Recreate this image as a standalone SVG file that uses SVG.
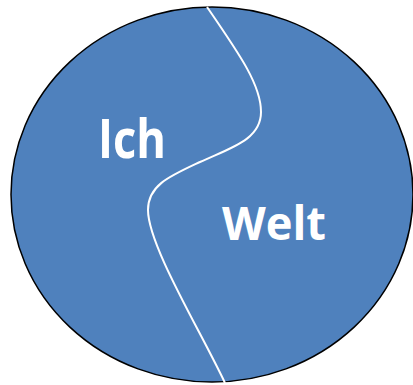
<svg xmlns="http://www.w3.org/2000/svg" width="413" height="385" viewBox="0 0 413 385">
<style>
.lbl{font-family:"Open Sans","Liberation Sans",sans-serif;font-weight:bold;fill:#ffffff}
</style>
<g id="circle">
<ellipse cx="212" cy="194.5" rx="201" ry="187.5" fill="#4F81BD" stroke="#000000" stroke-width="1.5"/>
</g>
<g id="connectors">
<path d="M207,7 C240,55 261,85 261,112 C261,140 230,148 200,162 C170,176 148,185 148,210 C148,245 200,330 225,383" fill="none" stroke="#ffffff" stroke-width="2"/>
</g>
<g id="ich"><text class="lbl" x="98" y="158" font-size="53" textLength="68" lengthAdjust="spacingAndGlyphs">Ich</text></g>
<g id="welt"><text class="lbl" x="222" y="240" font-size="46" textLength="104" lengthAdjust="spacingAndGlyphs">Welt</text></g>
</svg>
